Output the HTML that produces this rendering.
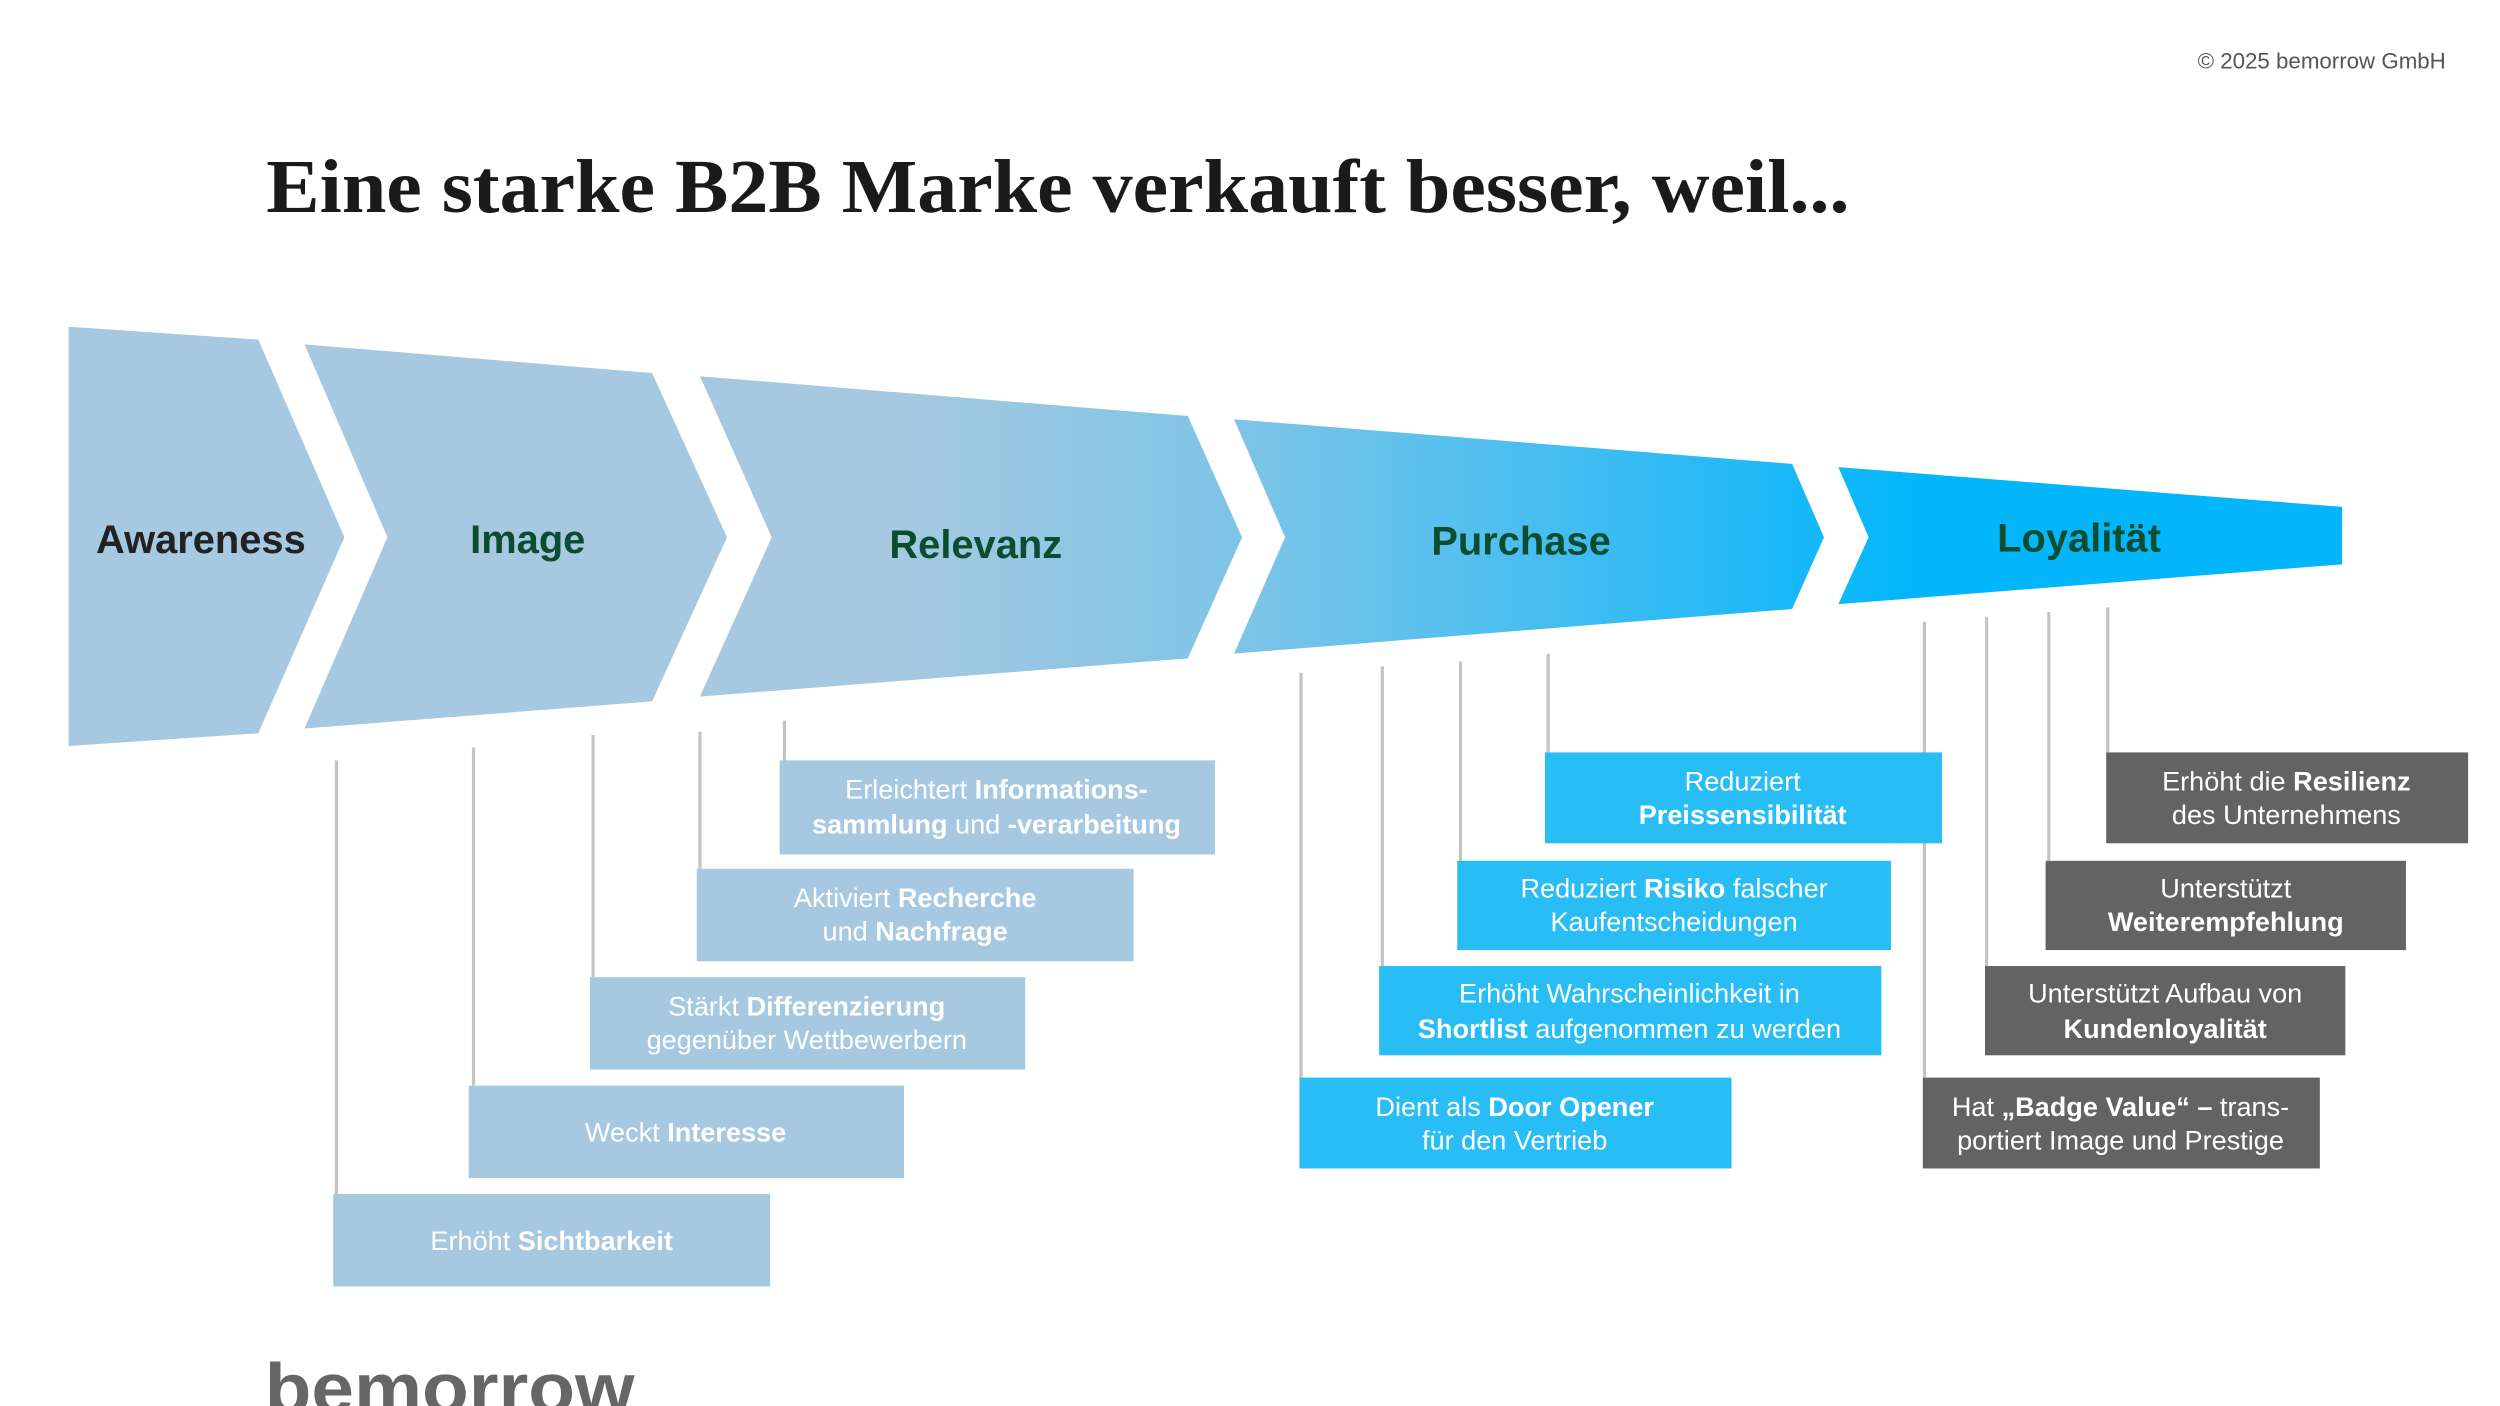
<!DOCTYPE html>
<html><head><meta charset="utf-8"><style>html,body{margin:0;padding:0;background:#fff;overflow:hidden}svg{display:block}</style></head>
<body>
<svg width="2500" height="1406" viewBox="0 0 1568 882" preserveAspectRatio="none" xmlns="http://www.w3.org/2000/svg" font-family="Liberation Sans, sans-serif">
<defs>
<linearGradient id="g" gradientUnits="userSpaceOnUse" x1="560" y1="0" x2="1200" y2="0">
<stop offset="0" stop-color="#a6c9e1"/><stop offset="0.35" stop-color="#7cc4e8"/><stop offset="1" stop-color="#03b6fb"/>
</linearGradient>
</defs>
<rect width="1568" height="882" fill="#fff"/>
<text x="1534" y="43" font-size="14" fill="#555" text-anchor="end">© 2025 bemorrow GmbH</text>
<text x="167" y="133" font-family="Liberation Serif, serif" font-weight="bold" font-size="48" fill="#1a1a1a" textLength="993" lengthAdjust="spacingAndGlyphs">Eine starke B2B Marke verkauft besser, weil...</text>

<g fill="url(#g)">
<polygon points="43,205 162,213 216,337 162,460 43,468"/>
<polygon points="191,216 409,234 456,337 409,440 191,457 243,337"/>
<polygon points="439,236 745,261 779,337 745,413 439,437 484,337"/>
<polygon points="774,263 1124,291 1144,337 1124,382 774,410 806,337"/>
<polygon points="1153,293 1469,318 1469,354 1153,379 1172,337"/>
</g>
<g font-weight="bold" font-size="25" text-anchor="middle">
<text x="126" y="347" fill="#222">Awareness</text>
<text x="331" y="347" fill="#0b4d2e">Image</text>
<text x="612" y="350" fill="#0b4d2e">Relevanz</text>
<text x="954" y="348" fill="#0b4d2e">Purchase</text>
<text x="1304" y="346" fill="#0b4d2e">Loyalität</text>
</g>

<g stroke="#c4c4c4" stroke-width="2">
<line x1="211" y1="477" x2="211" y2="749"/>
<line x1="297" y1="469" x2="297" y2="681"/>
<line x1="372" y1="461" x2="372" y2="613"/>
<line x1="439" y1="459" x2="439" y2="545"/>
<line x1="492" y1="452" x2="492" y2="477"/>
<line x1="816" y1="422" x2="816" y2="676"/>
<line x1="867" y1="418" x2="867" y2="606"/>
<line x1="916" y1="415" x2="916" y2="540"/>
<line x1="971" y1="410" x2="971" y2="472"/>
<line x1="1207" y1="390" x2="1207" y2="676"/>
<line x1="1246" y1="387" x2="1246" y2="606"/>
<line x1="1285" y1="384" x2="1285" y2="540"/>
<line x1="1322" y1="381" x2="1322" y2="472"/>
</g>

<g fill="#a6c9e1">
<rect x="209" y="749" width="274" height="58"/>
<rect x="294" y="681" width="273" height="58"/>
<rect x="370" y="613" width="273" height="58"/>
<rect x="437" y="545" width="274" height="58"/>
<rect x="489" y="477" width="273" height="59"/>
</g>
<g fill="#29bdf5">
<rect x="815" y="676" width="271" height="57"/>
<rect x="865" y="606" width="315" height="56"/>
<rect x="914" y="540" width="272" height="56"/>
<rect x="969" y="472" width="249" height="57"/>
</g>
<g fill="#636363">
<rect x="1206" y="676" width="249" height="57"/>
<rect x="1245" y="606" width="226" height="56"/>
<rect x="1283" y="540" width="226" height="56"/>
<rect x="1321" y="472" width="227" height="57"/>
</g>

<g fill="#fff" font-size="17" text-anchor="middle">
<text x="346" y="784">Erhöht <tspan font-weight="bold">Sichtbarkeit</tspan></text>
<text x="430" y="716">Weckt <tspan font-weight="bold">Interesse</tspan></text>
<text x="506" y="637">Stärkt <tspan font-weight="bold">Differenzierung</tspan></text>
<text x="506" y="658">gegenüber Wettbewerbern</text>
<text x="574" y="569">Aktiviert <tspan font-weight="bold">Recherche</tspan></text>
<text x="574" y="590">und <tspan font-weight="bold">Nachfrage</tspan></text>
<text x="625" y="501">Erleichtert <tspan font-weight="bold">Informations-</tspan></text>
<text x="625" y="523"><tspan font-weight="bold">sammlung</tspan> und <tspan font-weight="bold">-verarbeitung</tspan></text>

<text x="950" y="700">Dient als <tspan font-weight="bold">Door Opener</tspan></text>
<text x="950" y="721">für den Vertrieb</text>
<text x="1022" y="629">Erhöht Wahrscheinlichkeit in</text>
<text x="1022" y="651"><tspan font-weight="bold">Shortlist</tspan> aufgenommen zu werden</text>
<text x="1050" y="563">Reduziert <tspan font-weight="bold">Risiko</tspan> falscher</text>
<text x="1050" y="584">Kaufentscheidungen</text>
<text x="1093" y="496">Reduziert</text>
<text x="1093" y="517" font-weight="bold">Preissensibilität</text>

<text x="1330" y="700">Hat <tspan font-weight="bold">„Badge Value“ –</tspan> trans-</text>
<text x="1330" y="721">portiert Image und Prestige</text>
<text x="1358" y="629">Unterstützt Aufbau von</text>
<text x="1358" y="651" font-weight="bold">Kundenloyalität</text>
<text x="1396" y="563">Unterstützt</text>
<text x="1396" y="584" font-weight="bold">Weiterempfehlung</text>
<text x="1434" y="496">Erhöht die <tspan font-weight="bold">Resilienz</tspan></text>
<text x="1434" y="517">des Unternehmens</text>
</g>

<text x="166" y="886" font-size="44" font-weight="bold" fill="#666" textLength="232" lengthAdjust="spacingAndGlyphs">bemorrow</text>
</svg>
</body></html>
